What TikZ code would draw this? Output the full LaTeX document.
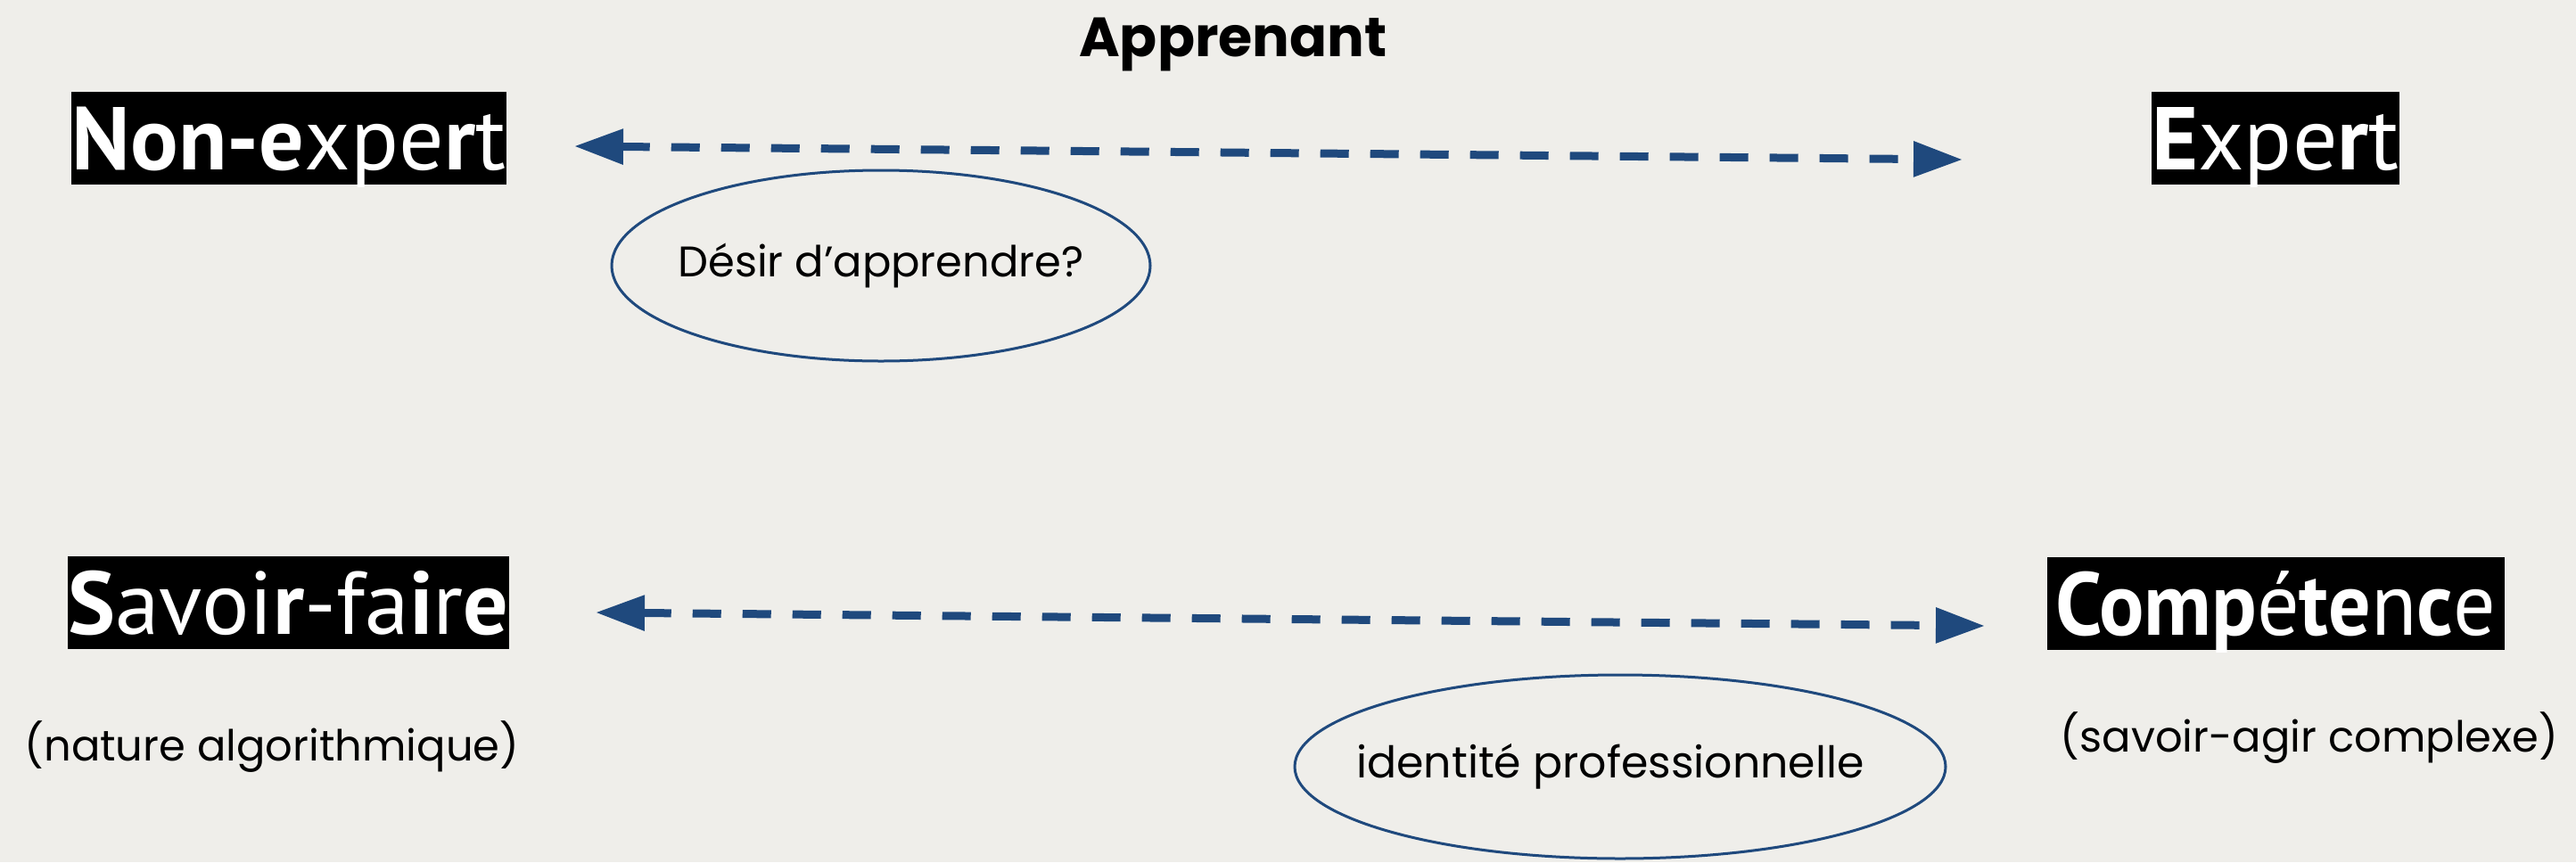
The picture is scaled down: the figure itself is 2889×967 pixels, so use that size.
\documentclass[tikz,border=0pt]{standalone}
\usepackage{fontspec}
\setmainfont{Poppins}
\newfontfamily\boxfont{PT Sans}
\usetikzlibrary{arrows.meta,shapes.geometric}
\definecolor{bg}{HTML}{EFEEEA}
\definecolor{arrowblue}{HTML}{1F497D}
\tikzset{
  labelbox/.style={fill=black, text=white, inner sep=0pt, minimum height=104pt,
    text height=70pt, text depth=0pt, font=\boxfont\fontsize{100}{100}\selectfont},
  link/.style={draw=arrowblue, line width=9pt, dash pattern=on 32pt off 24pt,
    {Triangle[length=55pt,width=38pt]}-{Triangle[length=55pt,width=38pt]}},
  bubble/.style={draw=arrowblue, line width=3pt, ellipse, inner sep=0pt},
  plain/.style={inner sep=0pt, font=\fontsize{48}{56}\selectfont},
}
\begin{document}
\begin{tikzpicture}[x=1pt,y=-1pt]
\useasboundingbox[fill=bg] (0,0) rectangle (2889,967);

\node[inner sep=0pt, anchor=base, font=\bfseries\fontsize{62}{70}\selectfont] (title) at (1383,63) {Apprenant};

\node[labelbox, minimum width=488pt] (nonexpert) at (324,155) {\textbf{Non-e}xpe\textbf{r}t};
\node[labelbox, minimum width=278pt] (expert) at (2552,155) {\textbf{E}xpe\textbf{r}t};
\node[labelbox, minimum width=493pt] (savoir) at (323.5,676) {\textbf{S}avoi\textbf{r}-fa\textbf{i}r\textbf{e}};
\node[labelbox, minimum width=513pt] (competence) at (2552,677) {\scalebox{0.94}[1]{\textbf{Comp}é\textbf{te}n\textbf{c}e}};

\coordinate (a1s) at (644,164);
\coordinate (a1e) at (2201,179);
\coordinate (a2s) at (668,687);
\coordinate (a2e) at (2226,702);
\draw[link] (a1s) -- (a1e);
\draw[link] (a2s) -- (a2e);

\node[bubble, minimum width=604pt, minimum height=214pt] (e1) at (988,298) {};
\node[plain] (e1text) at (e1.center) {Désir d’apprendre?};
\node[bubble, minimum width=730pt, minimum height=206pt] (e2) at (1817,860) {};
\node[plain, font=\fontsize{49}{56}\selectfont] (e2text) at ([xshift=-11pt]e2.center) {identité professionnelle};

\node[plain, anchor=base] (nature) at (305,853) {(nature algorithmique)};
\node[plain, anchor=base] (agir) at (2590,843) {(savoir-agir complexe)};
\end{tikzpicture}
\end{document}
